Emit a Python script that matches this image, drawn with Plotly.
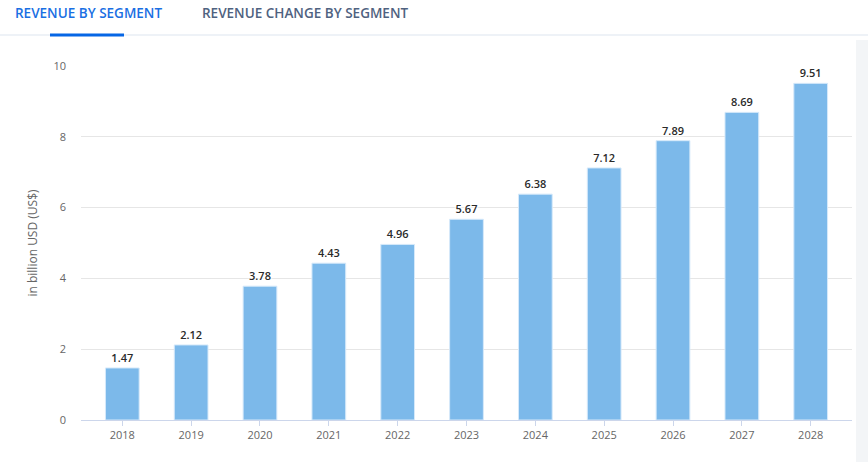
import plotly.graph_objects as go

years = ["2018", "2019", "2020", "2021", "2022", "2023", "2024", "2025", "2026", "2027", "2028"]
revenue = [1.47, 2.12, 3.78, 4.43, 4.96, 5.67, 6.38, 7.12, 7.89, 8.69, 9.51]
y_ticks = [0, 2, 4, 6, 8, 10]
tab_labels = ["REVENUE BY SEGMENT", "REVENUE CHANGE BY SEGMENT"]

OFF = 0  # body margin removed via post_script
PL, PR, PT, PB = 81, 852, 66, 420  # plot area in window pixels
W, H = 868, 462

fig = go.Figure()
fig.add_trace(go.Bar(
    x=years, y=revenue,
    width=0.49,
    marker=dict(color="#7cb9ea", line=dict(color="#d6e9fa", width=1)),
    text=[f"{v:.2f}" for v in revenue],
    textposition="outside",
    textfont=dict(family="Open Sans", size=11, color="#2a2a2a", weight=600,
                  shadow="1px 1px 2px white, -1px -1px 2px white, 1px -1px 2px white, -1px 1px 2px white"),
    cliponaxis=False,
    hoverinfo="skip",
))

fig.update_layout(
    width=W, height=H,
    margin=dict(l=PL - OFF, r=W - (PR - OFF), t=PT - OFF, b=H - (PB - OFF)),
    paper_bgcolor="white", plot_bgcolor="white",
    showlegend=False,
    font=dict(family="Open Sans", color="#666"),
    xaxis=dict(
        type="category", range=[-0.6, 10.6],
        showgrid=False, showline=True, linecolor="#ccd6eb", linewidth=1,
        ticks="outside", tickcolor="#ccd6eb", ticklen=5,
        tickfont=dict(family="Open Sans", size=11, color="#666"),
    ),
    yaxis=dict(
        range=[0, 10], tickvals=y_ticks,
        showgrid=True, gridcolor="#e6e6e6", gridwidth=1,
        zeroline=False, showline=False,
        tickfont=dict(family="Open Sans", size=11, color="#666"),
        ticklabelstandoff=14,
        title=dict(text="in billion USD (US$)", font=dict(family="Open Sans", size=12, color="#666"), standoff=13),
    ),
)

PW = PR - PL
PH = PB - PT
def px(pix):
    return (pix - PL) / PW
def py(pix):
    return (PB - pix) / PH

fig.add_annotation(xref="paper", yref="paper", x=px(14), y=py(13),
                   xanchor="left", yanchor="middle", showarrow=False, borderpad=0,
                   text=tab_labels[0], font=dict(family="Open Sans", size=13.5, color="#1a6fe3", weight=600))
fig.add_annotation(xref="paper", yref="paper", x=px(201), y=py(13),
                   xanchor="left", yanchor="middle", showarrow=False, borderpad=0,
                   text=tab_labels[1], font=dict(family="Open Sans", size=13.5, color="#4f6280", weight=600))

fig.add_shape(type="line", xref="paper", yref="paper", x0=px(0), x1=px(868), y0=py(35), y1=py(35),
              line=dict(color="#eef2f7", width=2))
fig.add_shape(type="line", xref="paper", yref="paper", x0=px(50), x1=px(124), y0=py(35), y1=py(35),
              line=dict(color="#0666e5", width=3))
fig.add_shape(type="rect", xref="paper", yref="paper", x0=px(856), x1=px(868), y0=py(462), y1=py(40),
              line=dict(width=0), fillcolor="rgba(235,238,242,0.6)", layer="above")

fig.write_html("out.html", config={"displayModeBar": False},
               post_script="document.body.style.margin='0';")
